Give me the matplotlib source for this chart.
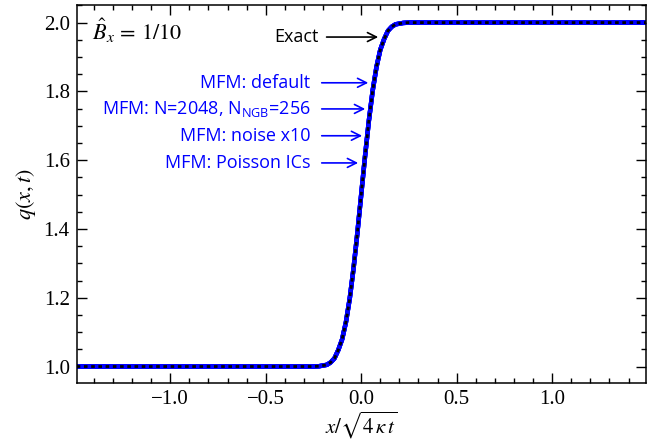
import matplotlib
matplotlib.use("Agg")
import matplotlib.pyplot as plt
from matplotlib.ticker import MultipleLocator

plt.rcParams['mathtext.fontset'] = 'custom'
plt.rcParams['mathtext.rm'] = 'Open Sans'
plt.rcParams['mathtext.it'] = 'Open Sans:italic'

# data
x_vals = [-1.49, -0.25, -0.22, -0.20, -0.18, -0.16, -0.14, -0.12, -0.10, -0.08,
          -0.06, -0.04, -0.02, 0.00, 0.02, 0.04, 0.06, 0.08, 0.10, 0.12,
          0.14, 0.16, 0.18, 0.20, 0.22, 0.25, 1.49]
q_exact = [1.000, 1.000, 1.001, 1.003, 1.005, 1.012, 1.024, 1.048, 1.079, 1.129,
           1.198, 1.286, 1.389, 1.500, 1.611, 1.714, 1.802, 1.871, 1.921, 1.952,
           1.976, 1.988, 1.995, 1.997, 1.999, 2.000, 2.000]
q_mfm_default = q_exact
q_mfm_n2048 = q_exact
q_mfm_noise = q_exact
q_mfm_poisson = q_exact

mfm_labels = ["MFM: default",
              r"MFM: N=2048, N$_{\mathrm{NGB}}$=256",
              "MFM: noise x10",
              "MFM: Poisson ICs"]
mfm_series = [q_mfm_default, q_mfm_n2048, q_mfm_noise, q_mfm_poisson]
# arrow tips and text rows (data coords)
mfm_text_y = [1.825, 1.749, 1.671, 1.592]
mfm_tip_x = [0.037, 0.021, 0.005, -0.016]
exact_y = 1.958
exact_tip_x = 0.089

xtick_vals = [-1.0, -0.5, 0.0, 0.5, 1.0]
xtick_labels = ['\u22121.0', '\u22120.5', '0.0', '0.5', '1.0']
ytick_vals = [1.0, 1.2, 1.4, 1.6, 1.8, 2.0]
ytick_labels = ['1.0', '1.2', '1.4', '1.6', '1.8', '2.0']

fig = plt.figure(figsize=(6.53, 4.45), dpi=100)
ax = fig.add_axes([0.1175, 0.14, 0.9888 - 0.1175, 0.9894 - 0.14])

for s in mfm_series:
    ax.plot(x_vals, s, color='#0000ff', lw=3.2, solid_capstyle='butt', zorder=2)
ax.plot(x_vals, q_exact, color='black', lw=2.0, dashes=(1.3, 1.3), zorder=3)

ax.xaxis.set_minor_locator(MultipleLocator(0.1))
ax.yaxis.set_minor_locator(MultipleLocator(0.05))
ax.tick_params(which='both', direction='in', top=True, right=True, width=1.0)
ax.tick_params(which='major', length=7, pad=5)
ax.tick_params(which='minor', length=3.5)
ax.set_xticks(xtick_vals)
ax.set_xticklabels(xtick_labels, family='Liberation Serif', fontsize=15)
ax.set_yticks(ytick_vals)
ax.set_yticklabels(ytick_labels, family='Liberation Serif', fontsize=15)
ax.set_xlim(-1.49, 1.49)
ax.set_ylim(0.953, 2.052)
for sp in ax.spines.values():
    sp.set_linewidth(1.1)

ax.set_xlabel(r"$x/\sqrt{4\,\kappa\, t}$", fontsize=15, math_fontfamily='stix', labelpad=1)
ax.set_ylabel(r"$q(x,t)$", fontsize=16, math_fontfamily='stix', labelpad=4)

ax.text(-1.41, 1.975, r"$\hat{B}_x\, =\, 1/10$", fontsize=16, math_fontfamily='stix',
        ha='left', va='center')

ax.annotate("Exact", xy=(exact_tip_x, exact_y), xytext=(-0.225, exact_y),
            ha='right', va='center', fontsize=13, family='Open Sans', color='black',
            arrowprops=dict(arrowstyle='->', color='black', lw=1.2,
                            mutation_scale=16, shrinkA=4, shrinkB=0))

for lab, ty, tx in zip(mfm_labels, mfm_text_y, mfm_tip_x):
    ax.annotate(lab, xy=(tx, ty), xytext=(-0.265, ty),
                ha='right', va='center', fontsize=13, family='Open Sans', color='#0000ff',
                arrowprops=dict(arrowstyle='->', color='#0000ff', lw=1.2,
                                mutation_scale=16, shrinkA=6, shrinkB=0))

fig.savefig("out.png", dpi=100)
